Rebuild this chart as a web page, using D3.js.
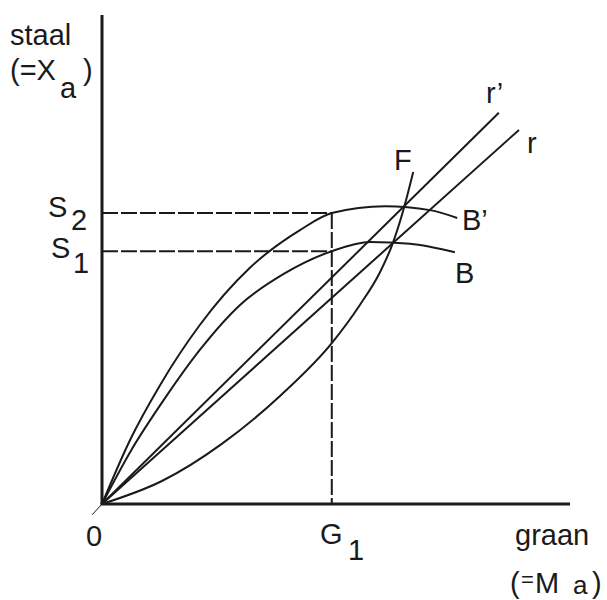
<!DOCTYPE html>
<html>
<head>
<meta charset="utf-8">
<script src="https://cdn.jsdelivr.net/npm/d3@7"></script>
<style>
  body { margin: 0; background: #fff; }
  text { font-family: "Liberation Sans", Arial, sans-serif; fill: #1a1a1a; }
</style>
</head>
<body>
<div id="chart"></div>
<script>
// curve points (x = graan, y = staal, axis units 0..10)
const curveBprime = [[0,0],[0.60,1.31],[1.24,2.43],[2.09,3.66],[3.16,4.83],[4.23,5.60],[4.91,5.95],[6.05,6.09],[7.01,6.01],[7.59,5.85]];
const curveB = [[0,0],[0.60,1.06],[1.35,2.17],[2.09,3.15],[2.95,4.07],[3.91,4.72],[4.91,5.17],[5.73,5.36],[6.58,5.32],[7.54,5.15]];
const curveF = [[0,0],[1.28,0.47],[2.56,1.23],[3.85,2.25],[4.91,3.29],[5.51,4.07],[5.94,4.74],[6.20,5.30],[6.45,6.05],[6.65,6.79]];
const lineRprime = [[0,0],[8.48,8.00]];
const lineR = [[0,0],[8.91,7.65]];

const G1 = 4.91;
const S1 = 5.17;
const S2 = 5.95;

const width = 607, height = 600;

const svg = d3.select("#chart")
              .append("svg")
                .attr("width", width)
                .attr("height", height);

const xScale = d3.scaleLinear().domain([0, 10]).range([102, 570]);
const yScale = d3.scaleLinear().domain([0, 10]).range([504, 15]);

const line = d3.line()
               .x(d => xScale(d[0]))
               .y(d => yScale(d[1]))
               .curve(d3.curveMonotoneX);

const ink = "#1a1a1a";

// dashed guides
const dash = "16,3";
function guide(xa, ya, xb, yb) {
  svg.append("line")
     .attr("x1", xScale(xa)).attr("y1", yScale(ya))
     .attr("x2", xScale(xb)).attr("y2", yScale(yb))
     .attr("stroke", ink).attr("stroke-width", 2).attr("stroke-dasharray", dash);
}
guide(0, S2, G1, S2);
guide(0, S1, G1, S1);
guide(G1, S2, G1, 0);

// curves and rays
[curveBprime, curveB, curveF, lineRprime, lineR].forEach(pts => {
  svg.append("path")
     .attr("d", line(pts))
     .attr("fill", "none")
     .attr("stroke", ink)
     .attr("stroke-width", 2);
});

// little tail below the origin
svg.append("line")
   .attr("x1", xScale(0)).attr("y1", yScale(0))
   .attr("x2", xScale(-0.21)).attr("y2", yScale(-0.22))
   .attr("stroke", ink).attr("stroke-width", 1);

// axes
svg.append("line")
   .attr("x1", xScale(0)).attr("y1", yScale(0))
   .attr("x2", xScale(0)).attr("y2", yScale(10))
   .attr("stroke", ink).attr("stroke-width", 3);
svg.append("line")
   .attr("x1", xScale(0) - 1.5).attr("y1", yScale(0))
   .attr("x2", xScale(10)).attr("y2", yScale(0))
   .attr("stroke", ink).attr("stroke-width", 3);

// labels
const fs = 29;
function label(txt, x, y, size) {
  svg.append("text")
     .attr("x", x).attr("y", y)
     .style("font-size", (size || fs) + "px")
     .text(txt);
}

label("staal", 10, 45);
label("(=X", 10, 80);
label("a", 60, 98);
label(")", 83, 80);

label("S", 48, 217);
label("2", 71, 230);
label("S", 51, 258);
label("1", 73, 273);

label("0", 86, 546);
label("G", 320, 544);
label("1", 348, 560);

label("F", 394, 170);
label("r\u2019", 486, 103);
label("r", 527, 153);
label("B\u2019", 462, 230);
label("B", 455, 283);

label("graan", 515, 545);
label("(", 510, 593);
label("=", 521, 587, 22);
label("M", 535, 593);
label("a", 573, 594, 26);
label(")", 592, 593);
</script>
</body>
</html>
